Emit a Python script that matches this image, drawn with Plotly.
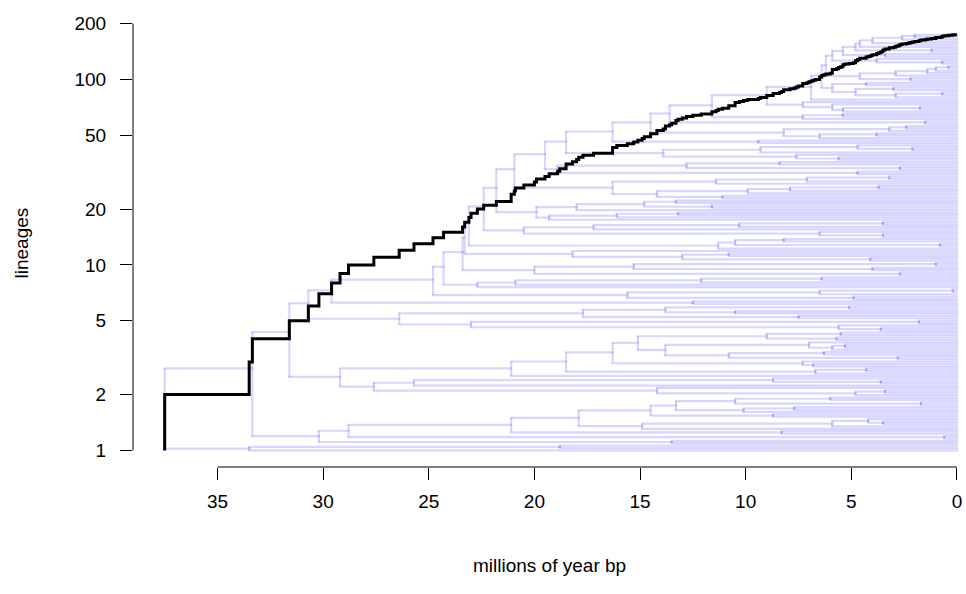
import numpy as np
import plotly.graph_objects as go

# Age (millions of years bp) of the node joining each pair of adjacent tips,
# listed from the bottom tip to the top tip of the plotted tree.
node_ages_between_tips = [
    33.5, 18.8, 37.5, 13.5, 30.2, 0.6, 28.8, 8.3, 21.1, 14.9,
    5.9, 3.5, 4.2, 17.9, 8.7, 14.5, 10.1, 7.7, 13.3, 1.7,
    10.5, 6.0, 33.35, 4.8, 3.4, 14.2, 27.6, 25.7, 3.6, 8.7,
    29.2, 21.1, 6.7, 4.3, 18.5, 6.8, 7.3, 16.3, 2.8, 10.8,
    6.3, 13.8, 5.9, 5.3, 7.0, 15.1, 5.7, 9.0, 5.5, 31.6,
    3.6, 5.6, 23.0, 1.8, 26.4, 7.5, 17.7, 10.5, 13.8, 5.1,
    30.7, 12.5, 29.6, 4.9, 15.6, 6.5, 0.2, 24.8, 22.7, 20.9,
    12.1, 6.4, 24.3, 2.7, 20.0, 4.0, 15.3, 1.0, 23.4, 4.1,
    13.0, 10.8, 18.2, 23.3, 11.3, 0.8, 10.5, 8.2, 23.1, 3.5,
    6.5, 20.5, 17.2, 10.3, 3.5, 22.4, 19.3, 16.1, 13.2, 19.9,
    18.0, 11.6, 14.8, 13.3, 21.8, 11.1, 14.2, 9.9, 7.9, 3.7,
    16.3, 11.4, 7.1, 3.2, 20.95, 4.7, 18.9, 2.7, 12.8, 8.4,
    19.5, 5.6, 7.6, 13.9, 9.3, 2.1, 4.7, 18.5, 9.4, 16.3,
    6.5, 3.8, 8.2, 3.2, 2.4, 14.5, 1.5, 13.6, 7.3, 5.4,
    11.6, 5.4, 1.75, 5.9, 7.3, 9.0, 6.9, 2.9, 0.7, 4.8,
    3.0, 5.9, 4.3, 6.4, 2.2, 4.6, 2.9, 1.4, 1.0, 0.4,
    6.2, 0.7, 3.8, 5.9, 3.4, 5.4, 1.2, 4.8, 4.6, 2.3,
    4.0, 2.6, 2.0,
]

x_ticks = [35, 30, 25, 20, 15, 10, 5, 0]
y_ticks = [1, 2, 5, 10, 20, 50, 100, 200]
x_title = "millions of year bp"
y_title = "lineages"

H = node_ages_between_tips
n_tips = len(H) + 1
log_n = np.log10(n_tips)

x_range = [39.0, -0.43]
plot_w_px = 833
tree_lw = 2.2
# half a line width in data units: branch ends overlap like round line caps
cap = (tree_lw / 2) * (x_range[0] - x_range[1]) / plot_w_px


def tip_y(k):
    # tips evenly spread on the log-lineage scale, from 1 to n_tips
    return 10 ** (k * log_n / (n_tips - 1))


hseg = {0: ([], []), 1: ([], [])}
vx, vy = [], []


def build(lo, hi, depth):
    if lo == hi:
        return 0.0, tip_y(lo)
    m = max(range(lo, hi), key=lambda i: H[i])
    age = H[m]
    a1, y1 = build(lo, m, depth + 1)
    a2, y2 = build(m + 1, hi, depth + 1)
    xs, ys = hseg[(depth + 1) % 2]
    for ac, yc in ((a1, y1), (a2, y2)):
        xs.extend([age + cap, ac - cap, None])
        ys.extend([yc, yc, None])
    vx.extend([age, age, None])
    vy.extend([y1, y2, None])
    # node placed midway between its daughters (in lineage units)
    return age, (y1 + y2) / 2


build(0, n_tips - 1, 0)

ages_sorted = sorted(H, reverse=True)
ltt_x = [ages_sorted[0]] + ages_sorted + [0]
ltt_y = [1] + list(range(2, n_tips + 1)) + [n_tips]

tree_col = "rgba(0,0,255,0.16)"

fig = go.Figure()
for parity in (0, 1):
    xs, ys = hseg[parity]
    fig.add_trace(go.Scatter(x=xs, y=ys, mode="lines",
                             line=dict(color=tree_col, width=tree_lw),
                             hoverinfo="skip", showlegend=False))
fig.add_trace(go.Scatter(x=vx, y=vy, mode="lines",
                         line=dict(color=tree_col, width=tree_lw),
                         hoverinfo="skip", showlegend=False))
fig.add_trace(go.Scatter(x=ltt_x, y=ltt_y, mode="lines",
                         line=dict(color="black", width=3, shape="hv"),
                         showlegend=False))

font = dict(family="Liberation Sans, Arial, sans-serif", size=19, color="black")

fig.update_layout(
    width=966, height=594,
    margin=dict(l=133, r=0, t=17.5, b=127.4),
    paper_bgcolor="white", plot_bgcolor="white",
    font=font,
    xaxis=dict(range=x_range, tickvals=x_ticks, ticktext=[str(v) for v in x_ticks],
               ticks="outside", ticklen=12, tickwidth=1, tickcolor="black",
               showline=False, showgrid=False, zeroline=False,
               ticklabelstandoff=5, tickfont=font),
    yaxis=dict(type="log", range=[-0.0895, 2.331], tickvals=y_ticks,
               ticktext=[str(v) for v in y_ticks],
               ticks="outside", ticklen=12, tickwidth=1, tickcolor="black",
               showline=False, showgrid=False, zeroline=False,
               ticklabelstandoff=10, tickfont=font),
    shapes=[
        dict(type="line", xref="x", yref="paper", x0=x_ticks[0], x1=x_ticks[-1], y0=0, y1=0,
             line=dict(color="black", width=1)),
        dict(type="line", xref="paper", yref="y", x0=0, x1=0, y0=y_ticks[0], y1=y_ticks[-1],
             line=dict(color="black", width=1)),
    ],
    annotations=[
        dict(text=x_title, xref="paper", yref="paper", x=0.5, y=-0.219,
             xanchor="center", yanchor="middle", showarrow=False, font=font),
        dict(text=y_title, xref="paper", yref="paper", x=-0.1333, y=0.5,
             xanchor="center", yanchor="middle", textangle=-90, showarrow=False, font=font),
    ],
)

fig.write_html("out.html")
